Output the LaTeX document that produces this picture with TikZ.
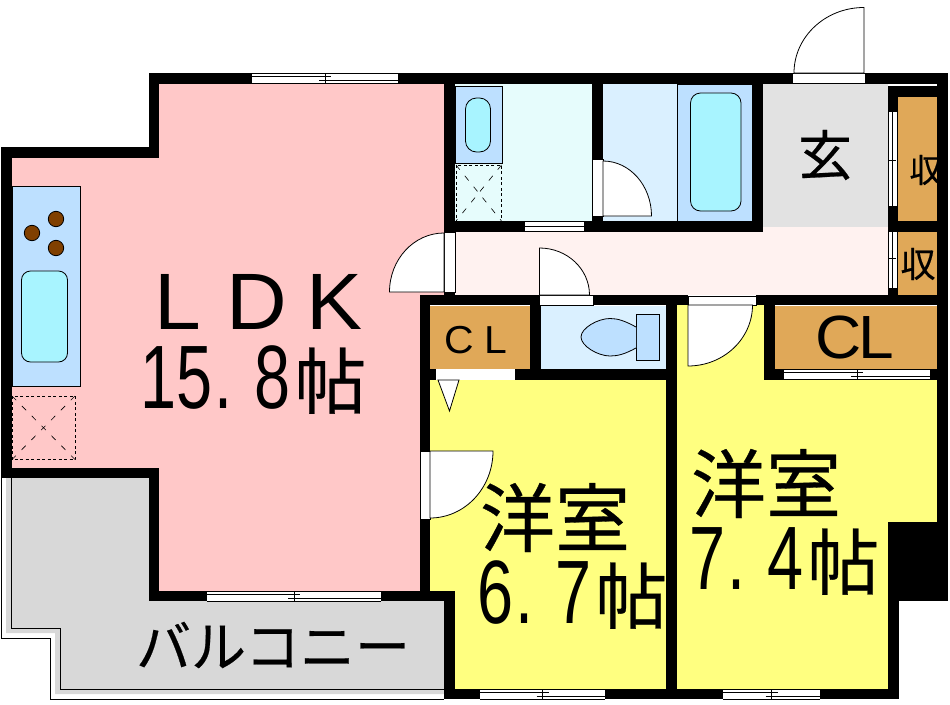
\documentclass[tikz,border=0pt]{standalone}
\usepackage{fontspec}
\setmainfont[FakeBold=0.4]{Noto Sans CJK JP}
\newfontfamily\numfont[FakeStretch=0.72]{Liberation Sans}
\newfontfamily\capfont[FakeStretch=1.05]{Liberation Sans}
\usepackage{tikz}
\definecolor{ldkpink}{HTML}{FFC8C8}
\definecolor{roomyellow}{HTML}{FFFF80}
\definecolor{closetorange}{HTML}{E0A858}
\definecolor{balconygrey}{HTML}{D8D8D8}
\definecolor{genkangrey}{HTML}{E2E2E2}
\definecolor{hallpink}{HTML}{FFF2F0}
\definecolor{washcyan}{HTML}{E6FCFC}
\definecolor{wetblue}{HTML}{DAF0FF}
\definecolor{panelblue}{HTML}{BDE0FF}
\definecolor{tubcyan}{HTML}{A8F4FF}
\definecolor{hobbrown}{HTML}{804000}
\tikzset{
  thinline/.style={draw=black,line width=0.8pt},
  doorleaf/.style={thinline,fill=white},
  panel/.style={thinline,fill=panelblue},
  tub/.style={thinline,fill=tubcyan},
  hob/.style={thinline,fill=hobbrown},
  dashbox/.style={draw=black,line width=0.7pt,dash pattern=on 3pt off 2.5pt},
  dashcross/.style={draw=black,line width=0.6pt,dash pattern=on 6pt off 8pt},
  bigtext/.style={inner sep=0pt,font=\fontsize{75}{75}\selectfont},
  areatext/.style={inner sep=0pt,anchor=base west,font=\fontsize{90}{90}\selectfont},
  midtext/.style={inner sep=0pt,font=\fontsize{54}{54}\selectfont},
}
% window in a horizontal or a vertical wall
\newcommand{\WinH}[4]{
  \fill[white] (#1,#3) rectangle (#2,#4);
  \draw[thinline] (#1,#3) -- (#2,#3) (#1,#4) -- (#2,#4) (#2,#3) -- (#2,#4);
  \draw[thinline] (#1,#3+3.5) -- ({(#1+#2)/2+6},#3+3.5) ({(#1+#2)/2-6},#3+7) -- (#2,#3+7)
    ({(#1+#2)/2},#3) -- ({(#1+#2)/2},#4);
}
\newcommand{\WinV}[3]{
  \fill[white] (888.5,#1) rectangle (898,#2);
  \draw[thinline] (888.5,#1) -- (888.5,#2) (892.7,#1) -- (892.7,#2) (897.3,#1) -- (897.3,#2);
  \draw[thinline] (888.5,#3) -- (896,#3) (892.7,#3-6) -- (892.7,#3+6);
}
\newcommand{\AreaText}[2]{{\numfont #1\kern2pt.\kern22pt#2}\kern4pt{\fontsize{72}{72}\selectfont 帖}}
\begin{document}
\begin{tikzpicture}[x=1pt,y=-1pt]
  \useasboundingbox (0,0) rectangle (950,704);
  % floors
  \fill[ldkpink] (159,84) -- (444,84) -- (444,295) -- (420,295) -- (420,591) -- (159,591)
    -- (159,468) -- (12,468) -- (12,158) -- (159,158) -- cycle;
  \fill[roomyellow] (430,380) -- (666,380) -- (666,689) -- (455,689) -- (455,591) -- (430,591) -- cycle;
  \fill[roomyellow] (677,305) -- (764,305) -- (764,380) -- (937,380) -- (937,522) -- (888,522)
    -- (888,689) -- (677,689) -- cycle;
  \fill[hallpink] (455,227) rectangle (888,295);
  \fill[genkangrey] (763,84) rectangle (888,227);
  \fill[washcyan] (455,84) rectangle (592,221);
  \fill[wetblue] (603,84) rectangle (677,221);
  \fill[wetblue] (541,306) rectangle (666,369);
  \fill[closetorange] (898,97) rectangle (937,221);
  \fill[closetorange] (898,232) rectangle (937,295);
  \fill[closetorange] (430,306) rectangle (530,369);
  \fill[closetorange] (775,306) rectangle (937,369);
  % balcony
  \fill[balconygrey] (6,478) -- (6,633) -- (55,633) -- (55,694) -- (444,694) -- (444,601)
    -- (149,601) -- (149,478) -- cycle;
  \draw[thinline] (1.5,478) -- (1.5,638) -- (50.5,638) -- (50.5,699) -- (444,699);
  \draw[thinline] (11.5,478) -- (11.5,628) -- (60.5,628) -- (60.5,689) -- (444,689);
  % kitchen
  \draw[panel] (12,186) rectangle (80.5,386);
  \draw[tub,rounded corners=9pt] (21.5,271) rectangle (67.5,362);
  \foreach \hx/\hy in {56/219,32/233,56/248}
    \draw[hob] (\hx,\hy) circle (7.7);
  \draw[dashbox] (12,396) rectangle (75,459.5);
  \draw[dashcross] (12,396) -- (75,459.5) (75,396) -- (12,459.5);
  % washroom and bath
  \draw[panel] (455,86.5) rectangle (502,163.5);
  \draw[tub,rounded corners=11pt] (465.5,98) rectangle (490.5,152);
  \draw[dashbox] (456,165) rectangle (501.5,221);
  \draw[dashcross] (456,165) -- (501.5,221) (501.5,165) -- (456,221);
  \draw[panel] (677.5,84) rectangle (752,221);
  \draw[tub,rounded corners=10pt] (690.5,93) rectangle (741,211);
  % toilet
  \draw[panel] (636,314) rectangle (659.5,360.5);
  \draw[panel] (636,327) .. controls (625,321) and (618,318.5) .. (610,318.5)
    .. controls (598,318.5) and (581,328) .. (581,337)
    .. controls (581,346) and (598,356) .. (610,356)
    .. controls (618,356) and (625,354) .. (636,348);
  % texts cut off by the walls
  \node[inner sep=0pt,font=\fontsize{33}{33}\selectfont] (shuno) at (926,170) {収};
  \node[inner sep=0pt,font=\fontsize{35}{35}\selectfont] (shunb) at (918,264) {収};
  % walls
  \foreach \xa/\ya/\xb/\yb in {149/73/252/84,398/73/792/84,865/73/948/84,149/73/159/158,
      1/147/159/158,1/147/12/478,1/468/159/478,149/468/159/601,149/591/207/601,381/591/455/601,
      444/84/455/232,444/221/525/232,584/221/763/232,592/84/603/159,592/216/603/221,752/84/763/232,
      888/86/937/97,888/97/898/112,888/206/898/232,888/221/937/232,888/288/898/295,444/292/455/295,
      937/73/948/601,420/295/539/305,593/295/688/305,756/295/948/305,420/305/430/451,420/519/430/601,
      530/305/541/380,420/369/436/380,515/369/677/380,666/305/677/699,764/305/775/380,764/369/784/380,
      930/369/937/380,888/522/948/601,888/601/899/699,444/689/480/699,605/689/723/699,820/689/899/699,
      444/601/455/699}
    \fill[black] (\xa,\ya) rectangle (\xb,\yb);
  % windows
  \WinH{252}{398}{73}{83.5}
  \WinH{207}{381}{591}{601}
  \WinH{480}{605}{689}{699}
  \WinH{723}{820}{689}{699}
  \WinH{784}{930}{369}{379}
  \fill[white] (525,221.5) rectangle (584,231);
  \draw[thinline] (525,221.5) -- (584,221.5) (525,226) -- (584,226) (525,231) -- (584,231) (584,221.5) -- (584,231);
  \WinV{112}{206}{160}
  \WinV{232}{288}{258}
  % openings and doors
  \fill[white] (792,73) rectangle (865,83);
  \draw[thinline] (792,73) rectangle (865,83);
  \draw[doorleaf] (864,73) -- (864,7.5) arc[start angle=270,end angle=180,x radius=70,y radius=65.5] -- cycle;
  \draw[doorleaf] (592.5,159) rectangle (603,216);
  \draw[doorleaf] (603,216) -- (603,161) arc[start angle=270,end angle=360,x radius=48.5,y radius=55] -- cycle;
  \draw[doorleaf] (444,232) rectangle (455,292);
  \draw[doorleaf] (444,292) -- (444,233) arc[start angle=270,end angle=180,x radius=54.5,y radius=59] -- cycle;
  \draw[doorleaf] (539.5,295) rectangle (593,305);
  \draw[doorleaf] (539.5,295) -- (539.5,248) arc[start angle=270,end angle=360,x radius=50,y radius=47] -- cycle;
  \draw[doorleaf] (420,451) rectangle (430,519);
  \draw[doorleaf] (430,451) -- (493,451) arc[start angle=0,end angle=90,x radius=63,y radius=67] -- cycle;
  \draw[doorleaf] (688,296) rectangle (756,305);
  \draw[doorleaf] (688,305) -- (752.5,305) arc[start angle=0,end angle=90,x radius=64.5,y radius=61] -- cycle;
  \fill[white] (436,370) rectangle (515,379);
  \draw[doorleaf] (438,380) -- (459,380) -- (449.5,411) -- cycle;
  % room names
  \node[areatext,font=\capfont\fontsize{80}{80}\selectfont] (ldk) at (154,329) {L\kern25.6pt D\kern19pt K};
  \node[areatext] (ldkarea) at (140,408) {\AreaText{15}{8}};
  \node[bigtext] (roomA) at (555,517.5) {洋室};
  \node[areatext] (roomAarea) at (477,623) {\AreaText{6}{7}};
  \node[bigtext] (roomB) at (766,483.5) {洋室};
  \node[areatext] (roomBarea) at (689,589) {\AreaText{7}{4}};
  \node[midtext] (genkan) at (825,155) {玄};
  \node[inner sep=0pt,font=\fontsize{55}{55}\selectfont] (balcony) at (273,645) {バルコニー};
  \node[areatext,font=\capfont\fontsize{61}{61}\selectfont] (clB) at (815,358) {C\kern-3pt L};
  \node[areatext,font=\capfont\fontsize{39}{39}\selectfont] (clA) at (444,353) {C\kern11pt L};
\end{tikzpicture}
\end{document}
